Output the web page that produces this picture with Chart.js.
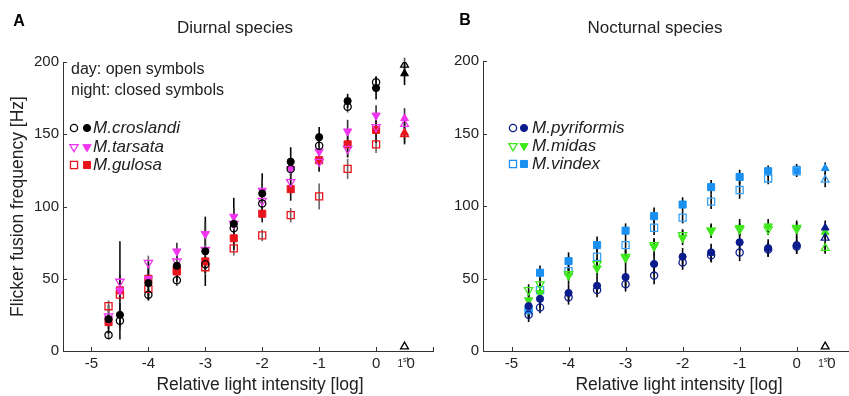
<!DOCTYPE html>
<html>
<head>
<meta charset="utf-8">
<script src="https://cdn.jsdelivr.net/npm/chart.js@4.4.1/dist/chart.umd.min.js"></script>
<style>
  html, body { margin: 0; padding: 0; background: #fff; overflow: hidden; width: 849px; height: 396px; }
  #chartA { position: absolute; left: 0; top: 0; }
  #chartB { position: absolute; left: 424px; top: 0; }
</style>
</head>
<body>
<canvas id="chartA" width="440" height="396"></canvas>
<canvas id="chartB" width="436" height="396"></canvas>
<script>
// Intensidades (log); 0.5 es la posición del "1st 0"
const intensity = [-4.7, -4.5, -4, -3.5, -3, -2.5, -2, -1.5, -1, -0.5, 0, 0.5];
const firstZero = 0.5;
const xTickValues = [-5, -4, -3, -2, -1, 0, 0.5];
const yTickValues = [0, 50, 100, 150, 200];
const firstZeroMarker = [3];

// Especies diurnas (día = abiertos, noche = cerrados)
const croslandiDay   = [11, 21, 39, 49, 60, 85, 102, 126, 142, 169, 186, 198];
const croslandiNight = [22, 25, 47, 59, 69, 88, 109, 131, 148, 173, 182, 192];
const tarsataDay     = [24, 48, 61, 62, 70, 88, 104, 117, 131, 140, 155, 157];
const tarsataNight   = [22, 42, 50, 69, 81, 93, 111, 126, 138, 152, 163, 161];
const gulosaDay      = [31, 39, 43, 56, 58, 71, 80, 94, 107, 126, 143, 150];
const gulosaNight    = [20, 42, 50, 55, 62, 78, 95, 112, 132, 143, 153, 151];

const croslandiDayErr   = [3, 6, 4, 4, 5, 6, 5, 5, 5, 4, 4, 5];
const croslandiNightErr = [10, 8, 12, 11, 24, 18, 14, 10, 7, 5, 8, 8];
const tarsataDayErr     = [4, 5, 5, 5, 5, 6, 6, 6, 6, 6, 6, 6];
const tarsataNightErr   = [4, 5, 6, 6, 8, 6, 8, 7, 8, 8, 7, 7];
const gulosaDayErr      = [4, 4, 5, 5, 5, 5, 4, 5, 9, 7, 6, 6];
const gulosaNightErr    = [5, 34, 12, 6, 8, 8, 6, 8, 8, 9, 9, 8];

// Especies nocturnas
const pyriformisDay   = [25, 30, 37, 42, 46, 52, 61, 66, 68, 70, 72, 78];
const pyriformisNight = [31, 36, 40, 45, 51, 60, 65, 68, 75, 71, 73, 85];
const midasDay        = [42, 46, 53, 60, 65, 73, 80, 83, 84, 84, 85, 71];
const midasNight      = [35, 40, 52, 57, 64, 72, 78, 83, 85, 86, 84, 82];
const vindexDay       = [28, 42, 55, 65, 73, 85, 92, 103, 111, 119, 124, 118];
const vindexNight     = [29, 54, 62, 73, 83, 93, 101, 113, 120, 124, 125, 126];

const pyriformisDayErr   = [5, 4, 5, 5, 5, 6, 5, 5, 6, 5, 5, 10];
const pyriformisNightErr = [9, 6, 6, 6, 7, 7, 6, 6, 6, 6, 6, 5];
const midasDayErr        = [4, 4, 4, 4, 4, 4, 4, 4, 4, 4, 4, 4];
const midasNightErr      = [6, 6, 6, 6, 6, 6, 5, 5, 6, 5, 6, 5];
const vindexDayErr       = [5, 4, 5, 5, 5, 5, 4, 5, 6, 4, 4, 5];
const vindexNightErr     = [6, 5, 6, 6, 5, 6, 5, 5, 5, 4, 4, 4];

const FONT = '"Liberation Sans", Arial, Helvetica, sans-serif';
const TEXT = '#222';

const CIRCLE = { style: 'circle', rotation: 0, radius: 3.6 };
const TRI_DOWN = { style: 'triangle', rotation: 180, radius: 4.8 };
const SQUARE = { style: 'rect', rotation: 0, radius: 5 };

// Construye una serie de puntos con barras de error
function makeSeries(label, ys, errs, color, shape, open, errColor) {
    return {
        label: label,
        data: intensity.map((x, i) => ({ x: x, y: ys[i] })),
        err: errs,
        errColor: errColor,
        showLine: false,
        pointStyle: intensity.map(x => x === firstZero ? 'triangle' : shape.style),
        rotation: intensity.map(x => x === firstZero ? 0 : shape.rotation),
        pointRadius: intensity.map(x => x === firstZero ? 4.5 : shape.radius),
        pointHoverRadius: intensity.map(x => x === firstZero ? 4.5 : shape.radius),
        pointBackgroundColor: open ? 'rgba(255,255,255,0)' : color,
        pointBorderColor: color,
        pointBorderWidth: open ? 1.3 : 1
    };
}

function firstZeroSeries() {
    return {
        label: '1st 0',
        data: firstZeroMarker.map(y => ({ x: firstZero, y: y })),
        showLine: false,
        pointStyle: 'triangle',
        pointRadius: 4.5,
        pointBackgroundColor: 'rgba(255,255,255,0)',
        pointBorderColor: '#000',
        pointBorderWidth: 1.3
    };
}

// Barras de error (dibujadas debajo de los símbolos)
const errorBarsPlugin = {
    id: 'errorBars',
    beforeDatasetsDraw(chart) {
        const ctx = chart.ctx;
        const xs = chart.scales.x, ys = chart.scales.y;
        ctx.save();
        ctx.lineWidth = 1.6;
        chart.data.datasets.forEach(ds => {
            if (!ds.err) return;
            ctx.strokeStyle = ds.errColor;
            ds.data.forEach((p, i) => {
                const px = xs.getPixelForValue(p.x);
                ctx.beginPath();
                ctx.moveTo(px, ys.getPixelForValue(Math.max(0, p.y - ds.err[i])));
                ctx.lineTo(px, ys.getPixelForValue(p.y + ds.err[i]));
                ctx.stroke();
            });
        });
        ctx.restore();
    }
};

// Marcas de los ejes hacia dentro (estilo MATLAB)
const inwardTicksPlugin = {
    id: 'inwardTicks',
    afterDraw(chart, args, opts) {
        const ctx = chart.ctx;
        const xs = chart.scales.x, ys = chart.scales.y;
        const area = chart.chartArea;
        ctx.save();
        ctx.strokeStyle = '#333';
        ctx.lineWidth = 1;
        opts.xValues.forEach(v => {
            const px = Math.round(xs.getPixelForValue(v)) + 0.5;
            ctx.beginPath();
            ctx.moveTo(px, area.bottom);
            ctx.lineTo(px, area.bottom - opts.length);
            ctx.stroke();
        });
        opts.yValues.forEach(v => {
            const py = Math.round(ys.getPixelForValue(v)) + 0.5;
            ctx.beginPath();
            ctx.moveTo(area.left, py);
            ctx.lineTo(area.left + opts.length, py);
            ctx.stroke();
        });
        ctx.restore();
    }
};

function drawMarker(ctx, style, x, y, radius, rotation, color, open) {
    ctx.fillStyle = open ? 'rgba(255,255,255,0)' : color;
    ctx.strokeStyle = color;
    ctx.lineWidth = open ? 1.3 : 1;
    Chart.helpers.drawPoint(ctx, { pointStyle: style, radius: radius, rotation: rotation, borderWidth: ctx.lineWidth }, x, y);
}

// Letra del panel, título, leyenda y etiqueta "1st0"
const panelTextPlugin = {
    id: 'panelText',
    afterDraw(chart, args, o) {
        const ctx = chart.ctx;
        ctx.save();
        ctx.fillStyle = '#000';
        ctx.textBaseline = 'middle';
        ctx.textAlign = 'center';
        ctx.font = 'bold 16px ' + FONT;
        ctx.fillText(o.letter, o.letterX, o.letterY);

        ctx.fillStyle = TEXT;
        ctx.font = '17px ' + FONT;
        ctx.fillText(o.title, o.titleX, o.titleY);
        ctx.font = '17.5px ' + FONT;
        ctx.fillText(o.xTitle, o.xTitleX, o.xTitleY);

        ctx.textAlign = 'left';
        ctx.font = '16px ' + FONT;
        (o.notes || []).forEach((t, i) => ctx.fillText(t, o.notesX, o.notesY[i]));

        o.legend.forEach((e, i) => {
            const y = o.legendY[i];
            drawMarker(ctx, e.shape.style, o.legendOpenX, y, e.shape.radius, e.shape.rotation, e.color, true);
            drawMarker(ctx, e.shape.style, o.legendFilledX, y, e.shape.radius, e.shape.rotation, e.color, false);
            ctx.fillStyle = TEXT;
            ctx.font = 'italic 17px ' + FONT;
            ctx.fillText(e.label, o.legendTextX, y);
        });

        // "1st0" con superíndice
        const px = chart.scales.x.getPixelForValue(firstZero);
        const ly = chart.chartArea.bottom + 11;
        ctx.textBaseline = 'alphabetic';
        ctx.fillStyle = TEXT;
        ctx.font = '10px ' + FONT;
        ctx.fillText('1', px - 7, ly + 5);
        ctx.font = '7px ' + FONT;
        ctx.fillText('st', px - 1.5, ly - 0.5);
        ctx.font = '15px ' + FONT;
        ctx.fillText('0', px + 2, ly + 5.5);
        ctx.restore();
    }
};

function makePanel(canvasId, datasets, cfg) {
    const ctx = document.getElementById(canvasId).getContext('2d');
    return new Chart(ctx, {
        type: 'scatter',
        data: { datasets: datasets },
        options: {
            responsive: false,
            animation: false,
            events: [],
            layout: { padding: { left: 0, right: cfg.padRight, top: cfg.padTop, bottom: 0 } },
            plugins: {
                legend: { display: false },
                tooltip: { enabled: false },
                inwardTicks: { xValues: [-5, -4, -3, -2, -1, 0, 1], yValues: yTickValues, length: 4 },
                panelText: cfg.text
            },
            scales: {
                x: {
                    type: 'linear',
                    min: -5.5,
                    max: 1,
                    afterBuildTicks: s => { s.ticks = xTickValues.map(v => ({ value: v })); },
                    afterFit: s => { s.height = 45; },
                    grid: { display: false, drawTicks: false },
                    border: { display: true, color: '#333', width: 1 },
                    ticks: {
                        autoSkip: false,
                        maxRotation: 0,
                        padding: 4,
                        color: TEXT,
                        font: { family: FONT, size: 15 },
                        callback: v => v === firstZero ? '' : String(v)
                    }
                },
                y: {
                    min: 0,
                    max: 200,
                    afterBuildTicks: s => { s.ticks = yTickValues.map(v => ({ value: v })); },
                    afterFit: s => { s.width = cfg.yWidth; },
                    grid: { display: false, drawTicks: false },
                    border: { display: true, color: '#333', width: 1 },
                    ticks: {
                        padding: 4,
                        color: TEXT,
                        font: { family: FONT, size: 15 }
                    },
                    title: {
                        display: cfg.yTitle !== '',
                        text: cfg.yTitle,
                        color: TEXT,
                        font: { family: FONT, size: 17.5 },
                        padding: { top: 8, bottom: 0 }
                    }
                }
            }
        },
        plugins: [errorBarsPlugin, inwardTicksPlugin, panelTextPlugin]
    });
}

function createCharts() {
    const black = '#000', magenta = '#f035f0', red = '#e8141c';
    const navy = '#0b1c8c', green = '#3ee81c', blue = '#1a90f0', lightBlue = '#3aa2f5';

    makePanel('chartA', [
        makeSeries('M.croslandi day', croslandiDay, croslandiDayErr, black, CIRCLE, true, '#555'),
        makeSeries('M.croslandi night', croslandiNight, croslandiNightErr, black, CIRCLE, false, '#000'),
        makeSeries('M.tarsata day', tarsataDay, tarsataDayErr, magenta, TRI_DOWN, true, '#666'),
        makeSeries('M.tarsata night', tarsataNight, tarsataNightErr, magenta, TRI_DOWN, false, '#333'),
        makeSeries('M.gulosa day', gulosaDay, gulosaDayErr, red, SQUARE, true, '#666'),
        makeSeries('M.gulosa night', gulosaNight, gulosaNightErr, red, SQUARE, false, '#111'),
        firstZeroSeries()
    ], {
        padRight: 7, padTop: 62, yWidth: 63,
        yTitle: 'Flicker fusion frequency [Hz]',
        text: {
            letter: 'A', letterX: 19, letterY: 22,
            title: 'Diurnal species', titleX: 235, titleY: 28,
            xTitle: 'Relative light intensity [log]', xTitleX: 260, xTitleY: 385,
            notes: ['day: open symbols', 'night: closed symbols'], notesX: 71, notesY: [70, 91],
            legendOpenX: 74, legendFilledX: 87, legendTextX: 93, legendY: [128, 147, 165],
            legend: [
                { label: 'M.croslandi', color: black, shape: CIRCLE },
                { label: 'M.tarsata', color: magenta, shape: TRI_DOWN },
                { label: 'M.gulosa', color: red, shape: SQUARE }
            ]
        }
    });

    makePanel('chartB', [
        makeSeries('M.pyriformis day', pyriformisDay, pyriformisDayErr, navy, CIRCLE, true, '#000'),
        makeSeries('M.pyriformis night', pyriformisNight, pyriformisNightErr, navy, CIRCLE, false, '#000'),
        makeSeries('M.midas day', midasDay, midasDayErr, green, TRI_DOWN, true, '#000'),
        makeSeries('M.midas night', midasNight, midasNightErr, green, TRI_DOWN, false, '#000'),
        makeSeries('M.vindex day', vindexDay, vindexDayErr, lightBlue, SQUARE, true, '#000'),
        makeSeries('M.vindex night', vindexNight, vindexNightErr, blue, SQUARE, false, '#000'),
        firstZeroSeries()
    ], {
        padRight: 6, padTop: 61, yWidth: 59,
        yTitle: '',
        text: {
            letter: 'B', letterX: 41, letterY: 21,
            title: 'Nocturnal species', titleX: 231, titleY: 28,
            xTitle: 'Relative light intensity [log]', xTitleX: 255, xTitleY: 385,
            notes: [], notesX: 0, notesY: [],
            legendOpenX: 89, legendFilledX: 100, legendTextX: 108, legendY: [128, 146, 164],
            legend: [
                { label: 'M.pyriformis', color: navy, shape: CIRCLE },
                { label: 'M.midas', color: green, shape: TRI_DOWN },
                { label: 'M.vindex', color: blue, shape: SQUARE }
            ]
        }
    });
}

document.addEventListener('DOMContentLoaded', createCharts);
</script>
</body>
</html>
